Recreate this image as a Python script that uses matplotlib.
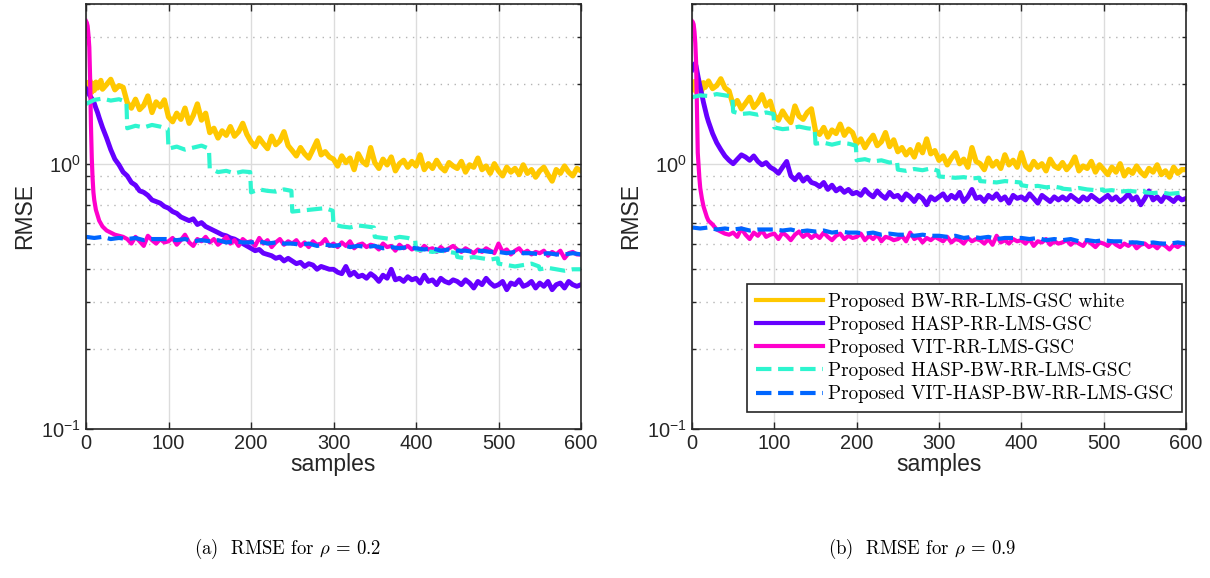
import matplotlib.pyplot as plt
import matplotlib.ticker as mticker
from matplotlib.font_manager import FontProperties

# sample index grids
samples = [0, 1, 2, 3, 4, 5, 6, 7, 8, 9, 10, 12, 14, 16, 18] + list(range(20, 601, 5))
samples_dash = list(range(0, 601, 10))
samples_step = [s + d for s in range(0, 600, 50) for d in (0, 10, 20, 30, 40, 49)] + [600]

labels = ['Proposed BW-RR-LMS-GSC white',
          'Proposed HASP-RR-LMS-GSC',
          'Proposed VIT-RR-LMS-GSC',
          'Proposed HASP-BW-RR-LMS-GSC',
          'Proposed VIT-HASP-BW-RR-LMS-GSC']

# ---------------- (a) rho = 0.2 ----------------
bw_white_a = [1.88, 1.95, 2.02, 1.90, 1.97, 2.05, 1.92, 1.86, 2.00, 1.94, 1.89, 2.03, 1.93, 1.98, 2.06,
              1.91, 1.99, 2.08, 1.90, 1.97, 1.94,
              1.70, 1.62, 1.75, 1.60, 1.66, 1.80, 1.56, 1.71, 1.64, 1.74,
              1.50, 1.44, 1.55, 1.47, 1.62, 1.42, 1.52, 1.68, 1.46, 1.55,
              1.31, 1.36, 1.25, 1.33, 1.28, 1.38, 1.27, 1.32, 1.42, 1.29,
              1.21, 1.16, 1.25, 1.19, 1.14, 1.27, 1.18, 1.22, 1.32, 1.17,
              1.12, 1.07, 1.15, 1.09, 1.05, 1.13, 1.22, 1.08, 1.11, 1.06,
              1.04, 0.98, 1.07, 1.01, 1.05, 0.95, 1.09, 1.02, 0.99, 1.15,
              1.01, 0.96, 1.04, 0.99, 1.06, 0.94, 1.00, 1.03, 0.97, 1.02,
              0.98, 1.08, 0.95, 1.00, 0.96, 1.03, 0.97, 0.94, 1.01, 0.98,
              0.96, 1.02, 0.93, 0.99, 0.97, 1.05, 0.95, 0.98, 0.92, 1.00,
              0.94, 0.90, 0.97, 0.93, 0.96, 0.91, 0.99, 0.92, 0.95, 0.89,
              0.94, 0.97, 0.91, 0.86, 0.95, 0.92, 0.98, 0.93, 0.90, 0.96,
              0.94]
hasp_a = [1.92, 1.90, 1.87, 1.85, 1.82, 1.80, 1.78, 1.76, 1.74, 1.72, 1.69, 1.62, 1.56, 1.49, 1.43,
          1.37, 1.25, 1.13, 1.04, 0.99, 0.93,
          0.90, 0.85, 0.83, 0.79, 0.78, 0.76, 0.73, 0.72, 0.71, 0.69,
          0.68, 0.66, 0.65, 0.63, 0.62, 0.61, 0.62, 0.59, 0.60, 0.58,
          0.57, 0.56, 0.55, 0.54, 0.535, 0.525, 0.52, 0.51, 0.50, 0.49,
          0.48, 0.47, 0.475, 0.46, 0.455, 0.45, 0.44, 0.445, 0.43, 0.44,
          0.43, 0.42, 0.425, 0.41, 0.42, 0.415, 0.40, 0.41, 0.405, 0.40,
          0.40, 0.39, 0.385, 0.41, 0.38, 0.39, 0.375, 0.38, 0.37, 0.385,
          0.375, 0.36, 0.38, 0.37, 0.40, 0.365, 0.37, 0.36, 0.375, 0.365,
          0.37, 0.355, 0.38, 0.36, 0.365, 0.35, 0.37, 0.36, 0.355, 0.365,
          0.36, 0.35, 0.365, 0.355, 0.34, 0.36, 0.35, 0.37, 0.355, 0.345,
          0.35, 0.36, 0.335, 0.355, 0.35, 0.365, 0.345, 0.35, 0.36, 0.34,
          0.355, 0.345, 0.36, 0.335, 0.35, 0.355, 0.34, 0.36, 0.35, 0.345,
          0.35]
vit_a = [3.45, 3.40, 3.30, 3.05, 2.75, 2.10, 1.40, 1.05, 0.88, 0.78, 0.73, 0.67, 0.64, 0.61, 0.595,
         0.58, 0.56, 0.55, 0.54, 0.535, 0.53,
         0.52, 0.50, 0.53, 0.51, 0.49, 0.535, 0.515, 0.50, 0.52, 0.505,
         0.51, 0.525, 0.495, 0.515, 0.54, 0.505, 0.49, 0.52, 0.51, 0.53,
         0.505, 0.52, 0.495, 0.51, 0.53, 0.50, 0.515, 0.49, 0.52, 0.505,
         0.51, 0.49, 0.525, 0.50, 0.515, 0.485, 0.505, 0.52, 0.495, 0.51,
         0.50, 0.515, 0.49, 0.505, 0.485, 0.51, 0.495, 0.50, 0.52, 0.49,
         0.50, 0.485, 0.505, 0.49, 0.51, 0.48, 0.495, 0.50, 0.485, 0.495,
         0.49, 0.475, 0.50, 0.485, 0.49, 0.47, 0.495, 0.48, 0.49, 0.475,
         0.485, 0.47, 0.49, 0.475, 0.48, 0.465, 0.485, 0.47, 0.48, 0.49,
         0.475, 0.465, 0.48, 0.47, 0.46, 0.475, 0.465, 0.48, 0.47, 0.46,
         0.50, 0.465, 0.475, 0.455, 0.47, 0.48, 0.46, 0.47, 0.455, 0.465,
         0.46, 0.47, 0.45, 0.465, 0.455, 0.47, 0.44, 0.46, 0.465, 0.455,
         0.455]
hasp_bw_a = [1.68, 1.74, 1.76, 1.73, 1.75, 1.71,
             1.36, 1.39, 1.37, 1.40, 1.38, 1.35,
             1.14, 1.16, 1.13, 1.15, 1.17, 1.14,
             0.96, 0.93, 0.94, 0.92, 0.935, 0.93,
             0.78, 0.80, 0.79, 0.785, 0.80, 0.79,
             0.66, 0.665, 0.67, 0.675, 0.68, 0.665,
             0.59, 0.58, 0.575, 0.585, 0.58, 0.575,
             0.53, 0.525, 0.52, 0.53, 0.525, 0.515,
             0.475, 0.47, 0.465, 0.47, 0.465, 0.46,
             0.445, 0.44, 0.445, 0.44, 0.435, 0.44,
             0.42, 0.415, 0.41, 0.415, 0.42, 0.41,
             0.40, 0.405, 0.40, 0.395, 0.40, 0.40,
             0.40]
vit_hasp_bw_a = [0.53, 0.525, 0.53, 0.52, 0.525, 0.52, 0.525, 0.515, 0.52, 0.52,
                 0.52, 0.515, 0.52, 0.51, 0.515, 0.51, 0.515, 0.505, 0.51, 0.505,
                 0.505, 0.51, 0.50, 0.505, 0.50, 0.50, 0.495, 0.50, 0.49, 0.495,
                 0.49, 0.495, 0.485, 0.49, 0.485, 0.49, 0.48, 0.485, 0.48, 0.485,
                 0.48, 0.475, 0.48, 0.47, 0.475, 0.47, 0.47, 0.465, 0.47, 0.465,
                 0.465, 0.46, 0.465, 0.46, 0.46, 0.455, 0.46, 0.455, 0.455, 0.46,
                 0.455]

# ---------------- (b) rho = 0.9 ----------------
bw_white_b = [1.92, 1.98, 1.90, 2.04, 1.93, 1.87, 2.01, 1.95, 2.07, 1.91, 1.96, 1.89, 2.02, 1.94, 1.99,
              2.05, 1.92, 1.97, 2.09, 1.93, 1.88,
              1.66, 1.73, 1.61, 1.69, 1.78, 1.63, 1.70, 1.82, 1.65, 1.72,
              1.52, 1.46, 1.58, 1.49, 1.43, 1.65, 1.51, 1.47, 1.56, 1.61,
              1.33, 1.29, 1.37, 1.26, 1.34, 1.30, 1.41, 1.28, 1.35, 1.31,
              1.19, 1.24, 1.15, 1.22, 1.28, 1.17, 1.21, 1.31, 1.16, 1.23,
              1.11, 1.15, 1.08, 1.13, 1.06, 1.18, 1.10, 1.24, 1.09, 1.12,
              1.03, 1.07, 0.99, 1.05, 1.10, 1.00, 1.04, 0.97, 1.15, 1.02,
              1.00, 0.95, 1.05, 0.98, 1.02, 0.96, 1.08, 0.99, 1.03, 0.97,
              1.10, 0.98, 0.95, 1.02, 0.97, 1.00, 0.94, 1.04, 0.98, 0.96,
              1.01, 0.95, 0.99, 1.06, 0.94, 0.98, 0.96, 1.02, 0.93, 0.99,
              0.95, 0.91, 0.97, 0.93, 1.00, 0.90, 0.95, 0.92, 0.98, 0.93,
              0.90, 0.96, 0.93, 0.99, 0.91, 0.94, 0.89, 0.97, 0.92, 0.95,
              0.95]
hasp_b = [2.26, 2.30, 2.34, 2.37, 2.39, 2.33, 2.24, 2.15, 2.07, 2.00, 1.94, 1.82, 1.70, 1.60, 1.51,
          1.44, 1.30, 1.20, 1.13, 1.07, 1.03,
          1.00, 1.04, 1.08, 1.06, 1.03, 1.07, 1.02, 0.99, 1.01, 0.97,
          0.95, 0.92, 0.97, 1.02, 0.90, 0.87, 0.91, 0.86, 0.89, 0.85,
          0.84, 0.82, 0.85, 0.80, 0.83, 0.79, 0.81, 0.78, 0.80, 0.77,
          0.78, 0.76, 0.80, 0.77, 0.75, 0.79, 0.76, 0.74, 0.78, 0.75,
          0.76, 0.73, 0.77, 0.75, 0.72, 0.76, 0.74, 0.70, 0.75, 0.73,
          0.75, 0.77, 0.73, 0.76, 0.74, 0.78, 0.72, 0.75, 0.80, 0.74,
          0.75, 0.72, 0.76, 0.74, 0.77, 0.73, 0.75, 0.71, 0.76, 0.74,
          0.75, 0.73, 0.77, 0.74, 0.71, 0.76, 0.74, 0.72, 0.75, 0.73,
          0.75, 0.73, 0.76, 0.74, 0.72, 0.75, 0.73, 0.76, 0.74, 0.72,
          0.74, 0.76, 0.73, 0.75, 0.72, 0.74, 0.77, 0.73, 0.75, 0.70,
          0.74, 0.79, 0.73, 0.75, 0.72, 0.76, 0.74, 0.72, 0.75, 0.73,
          0.74]
vit_b = [3.45, 3.42, 3.35, 3.15, 2.85, 2.40, 1.60, 1.10, 0.98, 0.88, 0.81, 0.74, 0.69, 0.66, 0.63,
         0.61, 0.59, 0.565, 0.555, 0.545, 0.54,
         0.55, 0.53, 0.57, 0.54, 0.52, 0.55, 0.535, 0.56, 0.53, 0.54,
         0.545, 0.52, 0.55, 0.535, 0.515, 0.54, 0.555, 0.53, 0.545, 0.525,
         0.54, 0.525, 0.55, 0.53, 0.515, 0.535, 0.545, 0.52, 0.535, 0.525,
         0.53, 0.545, 0.515, 0.535, 0.52, 0.54, 0.51, 0.53, 0.525, 0.515,
         0.52, 0.535, 0.51, 0.55, 0.52, 0.53, 0.505, 0.525, 0.515, 0.53,
         0.52, 0.51, 0.53, 0.505, 0.52, 0.515, 0.50, 0.525, 0.51, 0.52,
         0.515, 0.50, 0.52, 0.495, 0.535, 0.505, 0.515, 0.50, 0.52, 0.51,
         0.515, 0.50, 0.52, 0.49, 0.51, 0.505, 0.52, 0.495, 0.51, 0.50,
         0.505, 0.515, 0.495, 0.51, 0.50, 0.49, 0.515, 0.50, 0.485, 0.505,
         0.50, 0.49, 0.51, 0.495, 0.485, 0.50, 0.49, 0.505, 0.48, 0.495,
         0.50, 0.485, 0.495, 0.48, 0.50, 0.49, 0.475, 0.495, 0.485, 0.50,
         0.495]
hasp_bw_b = [1.78, 1.81, 1.80, 1.83, 1.81, 1.79,
             1.57, 1.54, 1.55, 1.53, 1.56, 1.54,
             1.37, 1.35, 1.36, 1.38, 1.36, 1.35,
             1.19, 1.20, 1.18, 1.20, 1.19, 1.17,
             1.03, 1.04, 1.02, 1.03, 1.01, 1.02,
             0.95, 0.94, 0.955, 0.945, 0.96, 0.94,
             0.895, 0.89, 0.885, 0.89, 0.88, 0.885,
             0.86, 0.855, 0.85, 0.86, 0.855, 0.85,
             0.83, 0.82, 0.825, 0.815, 0.82, 0.81,
             0.805, 0.80, 0.81, 0.80, 0.795, 0.80,
             0.79, 0.795, 0.785, 0.79, 0.785, 0.79,
             0.78, 0.775, 0.78, 0.77, 0.775, 0.78,
             0.775]
vit_hasp_bw_b = [0.575, 0.57, 0.575, 0.565, 0.57, 0.565, 0.57, 0.56, 0.565, 0.565,
                 0.565, 0.56, 0.565, 0.555, 0.56, 0.555, 0.56, 0.55, 0.555, 0.55,
                 0.55, 0.545, 0.55, 0.54, 0.545, 0.54, 0.54, 0.535, 0.54, 0.535,
                 0.535, 0.53, 0.535, 0.525, 0.53, 0.525, 0.53, 0.52, 0.525, 0.525,
                 0.525, 0.52, 0.525, 0.515, 0.52, 0.515, 0.52, 0.51, 0.515, 0.51,
                 0.515, 0.51, 0.51, 0.505, 0.505, 0.50, 0.505, 0.50, 0.50, 0.505,
                 0.50]

captions = [r'(a)  RMSE for $\rho$ = 0.2', r'(b)  RMSE for $\rho$ = 0.9']

colors = ['#FFC800', '#6600FF', '#FF00CC', '#2EF5CF', '#0066FF']

plt.rcParams['font.family'] = ['Liberation Sans', 'DejaVu Sans']
plt.rcParams['mathtext.fontset'] = 'cm'

fig = plt.figure(figsize=(12.1, 5.78), dpi=100)
ax_a = fig.add_axes([86 / 1210, 149 / 578, 495 / 1210, 425 / 578])
ax_b = fig.add_axes([692 / 1210, 149 / 578, 494 / 1210, 425 / 578])

panels = [
    (ax_a, bw_white_a, hasp_a, vit_a, hasp_bw_a, vit_hasp_bw_a),
    (ax_b, bw_white_b, hasp_b, vit_b, hasp_bw_b, vit_hasp_bw_b),
]

for ax, yel, pur, mag, cya, blu in panels:
    ax.plot(samples, yel, color=colors[0], lw=3.8, label=labels[0])
    ax.plot(samples, pur, color=colors[1], lw=3.5, label=labels[1])
    ax.plot(samples, mag, color=colors[2], lw=3.0, label=labels[2])
    ax.plot(samples_step, cya, color=colors[3], lw=3.0, ls='--', label=labels[3])
    ax.plot(samples_dash, blu, color=colors[4], lw=3.0, ls='--', label=labels[4])

    ax.set_yscale('log')
    ax.set_xlim(0, 600)
    ax.set_ylim(0.1, 4)
    ax.set_xticks(range(0, 601, 100))
    ax.yaxis.set_major_locator(mticker.LogLocator(base=10, numticks=5))
    ax.yaxis.set_minor_locator(mticker.LogLocator(base=10, subs=range(2, 10), numticks=20))
    ax.yaxis.set_minor_formatter(mticker.NullFormatter())

    ax.set_axisbelow(True)
    ax.grid(True, which='major', color='#dcdcdc', lw=1.0, ls='-')
    ax.grid(True, which='minor', axis='y', color='#b4b4b4', lw=1.0, ls=(0, (1, 4)))

    ax.tick_params(which='both', direction='in', top=True, right=True,
                   colors='#262626', labelsize=14.4, width=1.0)
    ax.tick_params(which='major', length=5)
    ax.tick_params(which='minor', length=3)
    for sp in ax.spines.values():
        sp.set_color('#262626')
        sp.set_linewidth(1.2)

    ax.set_xlabel('samples', fontsize=16.5, color='#262626', labelpad=0)
    ax.set_ylabel('RMSE', fontsize=16.5, color='#262626', labelpad=4)

leg = ax_b.legend(loc='lower right', bbox_to_anchor=(0.992, 0.04), borderaxespad=0,
                  prop=FontProperties(family='cmr10', size=13.8),
                  handlelength=3.5, handletextpad=0.3, labelspacing=0.27,
                  borderpad=0.45, fancybox=False, framealpha=1)
leg.get_frame().set_edgecolor('#262626')
leg.get_frame().set_linewidth(1.2)
for handle in leg.get_lines():
    handle.set_linewidth(3.0)

fig.text(288 / 1210, 0.05, captions[0], ha='center', va='center', family='cmr10', fontsize=13.5)
fig.text(922 / 1210, 0.05, captions[1], ha='center', va='center', family='cmr10', fontsize=13.5)

fig.savefig('out.png', dpi=100)
